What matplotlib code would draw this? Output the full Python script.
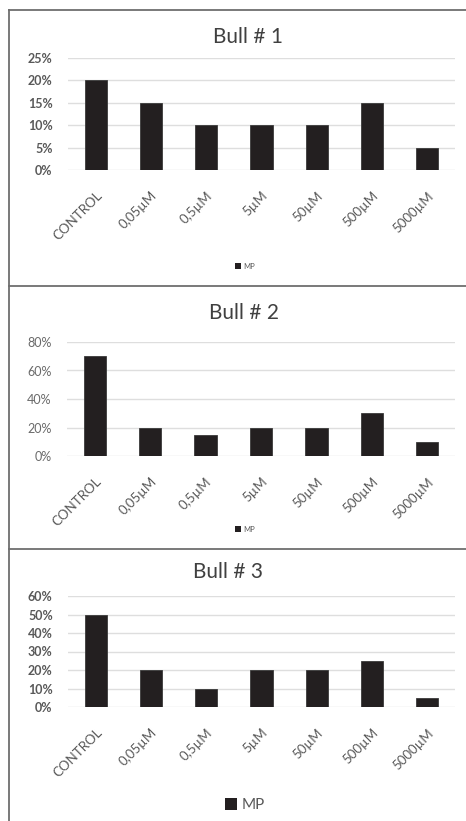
import matplotlib
matplotlib.use("Agg")
import matplotlib.pyplot as plt
from matplotlib.lines import Line2D
from matplotlib.patches import Patch
from matplotlib.ticker import FuncFormatter

plt.rcParams['font.family'] = ['Lato', 'DejaVu Sans']

categories = ["CONTROL", "0,05µM", "0,5µM", "5µM", "50µM", "500µM", "5000µM"]
bull1 = [20, 15, 10, 10, 10, 15, 5]
bull2 = [70, 20, 15, 20, 20, 30, 10]
bull3 = [50, 20, 10, 20, 20, 25, 5]
titles = ["Bull # 1", "Bull # 2", "Bull # 3"]
y_ticks = [[0, 5, 10, 15, 20, 25], [0, 20, 40, 60, 80], [0, 10, 20, 30, 40, 50, 60]]
series_name = "MP"

W, H = 466, 821
fig = plt.figure(figsize=(W / 100, H / 100), dpi=100)

BAR = "#231f20"
GRID = "#dedede"
TXT = "#595959"


def fx(px):
    return px / W


def fy(py):
    return 1 - py / H


# plot area box (left, right, top, bottom) in pixels, plus title and legend centres
panels = [
    dict(vals=bull1, ticks=y_ticks[0], box=(68, 455, 58, 170), title=(248, 37),
         legend=(245, 266), lfs=5.5, yweight='bold', ycol="#595959"),
    dict(vals=bull2, ticks=y_ticks[1], box=(67, 455, 342, 456), title=(244, 313),
         legend=(245, 529), lfs=5.5, yweight='normal', ycol="#6a6a6a"),
    dict(vals=bull3, ticks=y_ticks[2], box=(68, 455, 596, 707), title=(228, 572),
         legend=(245, 805), lfs=11, yweight='bold', ycol="#595959"),
]

for p, title in zip(panels, titles):
    l, r, t, b = p['box']
    ax = fig.add_axes([fx(l), fy(b), fx(r - l), (b - t) / H])
    x = list(range(len(categories)))
    ax.bar(x, p['vals'], width=0.4, color=BAR, edgecolor="#3a3a3a", linewidth=0.6,
           zorder=3)
    ax.set_xlim(-0.5, len(categories) - 0.5)
    ax.set_ylim(0, p['ticks'][-1])
    ax.set_yticks(p['ticks'])
    ax.yaxis.set_major_formatter(FuncFormatter(lambda v, pos: f"{v:.0f}%"))
    ax.grid(axis='y', color=GRID, linewidth=1.0, zorder=0)
    for s in ax.spines.values():
        s.set_visible(False)
    ax.tick_params(axis='both', length=0)
    ax.tick_params(axis='y', labelsize=9, labelcolor=p['ycol'], pad=11)
    for lab in ax.get_yticklabels():
        lab.set_fontweight(p['yweight'])
    ax.set_xticks(x)
    ax.set_xticklabels(categories, rotation=45, ha='right', rotation_mode='anchor',
                       fontsize=9.5, color=TXT)
    ax.tick_params(axis='x', pad=14)
    fig.text(fx(p['title'][0]), fy(p['title'][1]), title, ha='center', va='center',
             fontsize=15, color="#404040")
    fig.legend(handles=[Patch(facecolor=BAR, label=series_name)],
               loc='center', bbox_to_anchor=(fx(p['legend'][0]), fy(p['legend'][1])),
               frameon=False, fontsize=p['lfs'], handlelength=0.8, handleheight=0.8,
               handletextpad=0.3, labelcolor=TXT)

# panel frames
border = dict(color="#6e6e6e", linewidth=1.3)
for yy in (10, 286, 549):
    fig.add_artist(Line2D([fx(9), 1], [fy(yy), fy(yy)], transform=fig.transFigure, **border))
fig.add_artist(Line2D([fx(9), fx(9)], [fy(10), 0], transform=fig.transFigure, **border))

fig.savefig("out.png", dpi=100)
